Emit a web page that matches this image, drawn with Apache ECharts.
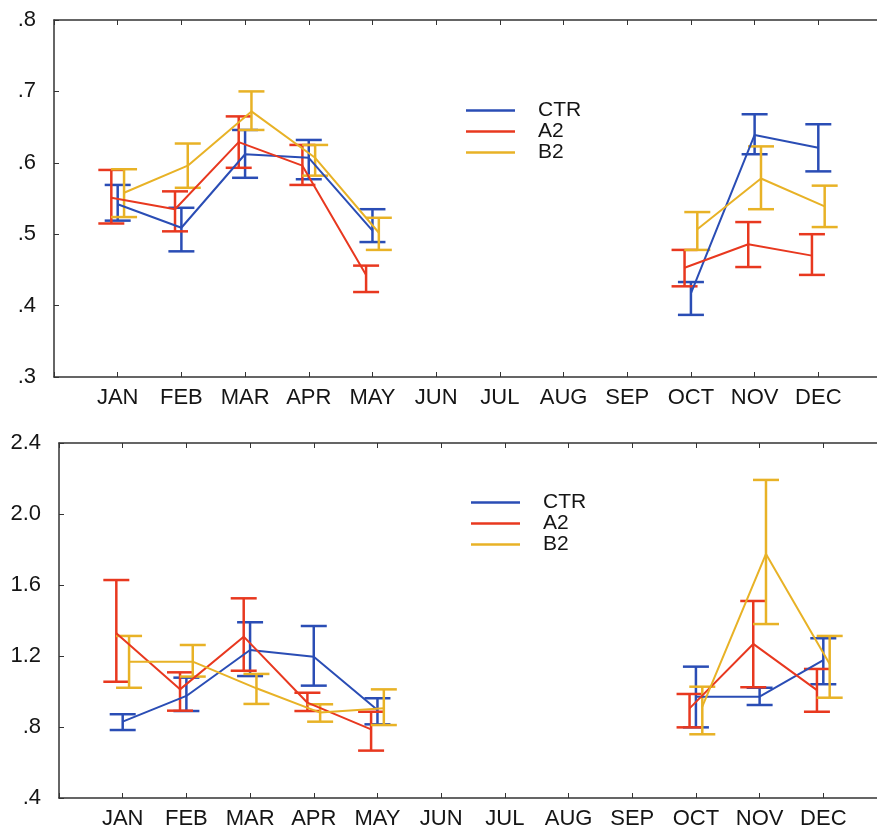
<!DOCTYPE html>
<html>
<head>
<meta charset="utf-8" />
<title>CTR / A2 / B2 monthly</title>
<script src="https://cdn.jsdelivr.net/npm/echarts@6/dist/echarts.min.js"></script>
<style>
  html, body { margin: 0; padding: 0; background: #ffffff; }
  #main { width: 877px; height: 832px; }
</style>
</head>
<body>
<div id="main"></div>
<script>
// month labels, data indexed JAN..DEC (null = no sample)
var months = ["JAN", "FEB", "MAR", "APR", "MAY", "JUN", "JUL", "AUG", "SEP", "OCT", "NOV", "DEC"];
var seriesNames = ["CTR", "A2", "B2"];
var topTicks = [0.3, 0.4, 0.5, 0.6, 0.7, 0.8];
var bottomTicks = [0.4, 0.8, 1.2, 1.6, 2.0, 2.4];

// upper panel
var topCtr = [0.542, 0.509, 0.612, 0.607, 0.505, null, null, null, null, 0.417, 0.639, 0.621];
var topCtrLow = [0.519, 0.476, 0.579, 0.577, 0.489, null, null, null, null, 0.387, 0.612, 0.588];
var topCtrHigh = [0.569, 0.537, 0.646, 0.632, 0.535, null, null, null, null, 0.433, 0.668, 0.654];

var topA2 = [0.551, 0.535, 0.629, 0.596, 0.443, null, null, null, null, 0.453, 0.486, 0.470];
var topA2Low = [0.515, 0.504, 0.593, 0.569, 0.419, null, null, null, null, 0.427, 0.454, 0.443];
var topA2High = [0.590, 0.560, 0.665, 0.625, 0.456, null, null, null, null, 0.478, 0.517, 0.500];

var topB2 = [0.558, 0.596, 0.672, 0.607, 0.502, null, null, null, null, 0.507, 0.578, 0.539];
var topB2Low = [0.524, 0.565, 0.646, 0.582, 0.478, null, null, null, null, 0.478, 0.535, 0.510];
var topB2High = [0.591, 0.627, 0.700, 0.625, 0.523, null, null, null, null, 0.531, 0.623, 0.568];

// lower panel
var botCtr = [0.830, 0.975, 1.234, 1.196, 0.896, null, null, null, null, 0.971, 0.971, 1.177];
var botCtrLow = [0.783, 0.890, 1.087, 1.033, 0.815, null, null, null, null, 0.798, 0.924, 1.041];
var botCtrHigh = [0.872, 1.078, 1.390, 1.369, 0.962, null, null, null, null, 1.140, 1.021, 1.300];

var botA2 = [1.328, 1.012, 1.309, 0.937, 0.787, null, null, null, null, 0.905, 1.268, 1.008];
var botA2Low = [1.055, 0.892, 1.117, 0.890, 0.667, null, null, null, null, 0.798, 1.024, 0.886];
var botA2High = [1.628, 1.108, 1.525, 0.993, 0.886, null, null, null, null, 0.986, 1.510, 1.127];

var botB2 = [1.168, 1.168, 1.018, 0.881, 0.905, null, null, null, null, 0.915, 1.775, 1.155];
var botB2Low = [1.021, 1.084, 0.930, 0.830, 0.811, null, null, null, null, 0.759, 1.380, 0.965];
var botB2High = [1.313, 1.262, 1.099, 0.928, 1.012, null, null, null, null, 1.027, 2.192, 1.313];

var colors = ["#2a4db5", "#e8381f", "#e8b226"];
var dodge = [0, -0.1, 0.1]; // CTR centred, A2 left, B2 right
var fontName = "Liberation Sans, Arial, sans-serif";

function meanPoints(values, off) {
  return values.map(function(v, i) {
    return [i + 1 + off, v == null ? "-" : v];
  });
}

function errPoints(lows, highs, off) {
  var res = [];
  for (var i = 0; i < lows.length; i++) {
    if (lows[i] != null) res.push([i + 1 + off, lows[i], highs[i]]);
  }
  return res;
}

// vertical bar with caps
function renderErr(params, api) {
  var x = api.value(0);
  var pLo = api.coord([x, api.value(1)]);
  var pHi = api.coord([x, api.value(2)]);
  var w = 13;
  var st = { stroke: api.visual("color"), lineWidth: 2.5 };
  return {
    type: "group",
    children: [
      { type: "line", shape: { x1: pLo[0], y1: pLo[1], x2: pHi[0], y2: pHi[1] }, style: st },
      { type: "line", shape: { x1: pLo[0] - w, y1: pLo[1], x2: pLo[0] + w, y2: pLo[1] }, style: st },
      { type: "line", shape: { x1: pHi[0] - w, y1: pHi[1], x2: pHi[0] + w, y2: pHi[1] }, style: st }
    ]
  };
}

function monthLabel(v) {
  return v >= 1 && v <= 12 ? months[v - 1] : "";
}

function numLabel(v) {
  return v.toFixed(1).replace(/^0/, "");
}

function xAxisFor(gi, pos) {
  return {
    type: "value",
    gridIndex: gi,
    position: pos,
    min: 0,
    max: 13,
    interval: 1,
    splitLine: { show: false },
    axisLine: { show: true, lineStyle: { color: "#333", width: 1.5 } },
    axisTick: { show: true, inside: true, length: 5, lineStyle: { color: "#333" } },
    axisLabel: {
      show: pos === "bottom",
      formatter: monthLabel,
      margin: 10,
      fontSize: 22,
      color: "#151515",
      fontFamily: fontName
    }
  };
}

function yAxisFor(gi, ticks) {
  return {
    type: "value",
    gridIndex: gi,
    min: ticks[0],
    max: ticks[ticks.length - 1],
    interval: ticks[1] - ticks[0],
    splitLine: { show: false },
    axisLine: { show: true, lineStyle: { color: "#333", width: 1.5 } },
    axisTick: { show: true, inside: true, length: 5, lineStyle: { color: "#333" } },
    axisLabel: {
      formatter: numLabel,
      margin: 18,
      fontSize: 22,
      color: "#151515",
      fontFamily: fontName
    }
  };
}

function legendFor(left, top, gap) {
  return {
    left: left,
    top: top,
    orient: "vertical",
    selectedMode: false,
    padding: 0,
    itemGap: 0,
    itemWidth: 49,
    itemHeight: 2.5,
    icon: "rect",
    data: seriesNames,
    textStyle: {
      fontSize: 21,
      lineHeight: gap,
      color: "#151515",
      fontFamily: fontName,
      padding: [0, 0, 0, 18]
    }
  };
}

var panels = [
  { means: [topCtr, topA2, topB2], lows: [topCtrLow, topA2Low, topB2Low], highs: [topCtrHigh, topA2High, topB2High] },
  { means: [botCtr, botA2, botB2], lows: [botCtrLow, botA2Low, botB2Low], highs: [botCtrHigh, botA2High, botB2High] }
];

var series = [];
panels.forEach(function(p, gi) {
  for (var k = 0; k < 3; k++) {
    series.push({
      name: seriesNames[k],
      type: "custom",
      xAxisIndex: gi * 2,
      yAxisIndex: gi,
      renderItem: renderErr,
      itemStyle: { color: colors[k] },
      encode: { x: 0, y: [1, 2] },
      silent: true,
      data: errPoints(p.lows[k], p.highs[k], dodge[k])
    });
    series.push({
      name: seriesNames[k],
      type: "line",
      xAxisIndex: gi * 2,
      yAxisIndex: gi,
      showSymbol: false,
      symbol: "none",
      connectNulls: false,
      silent: true,
      lineStyle: { color: colors[k], width: 2 },
      itemStyle: { color: colors[k] },
      data: meanPoints(p.means[k], dodge[k])
    });
  }
});

var option = {
  animation: false,
  backgroundColor: "#ffffff",
  color: colors,
  // the right edge of both frames runs past the picture, so no clamping
  grid: [
    { left: 54, top: 20, width: 828, height: 357, outerBoundsMode: "none", containLabel: false },
    { left: 59, top: 443, width: 828, height: 355, outerBoundsMode: "none", containLabel: false }
  ],
  xAxis: [xAxisFor(0, "bottom"), xAxisFor(0, "top"), xAxisFor(1, "bottom"), xAxisFor(1, "top")],
  yAxis: [yAxisFor(0, topTicks), yAxisFor(1, bottomTicks)],
  legend: [legendFor(466, 100, 15), legendFor(471, 492, 18)],
  series: series
};

var myChart = echarts.init(document.getElementById("main"));
myChart.setOption(option);
window.addEventListener("resize", function() {
  myChart.resize();
});
</script>
</body>
</html>
